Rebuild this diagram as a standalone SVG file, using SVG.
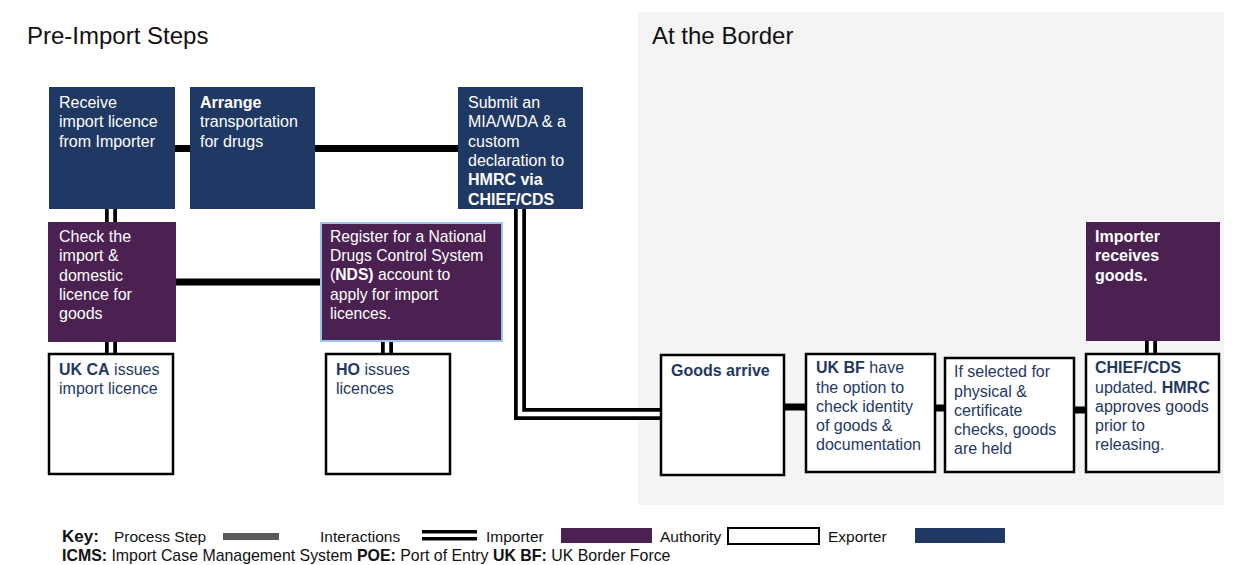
<svg xmlns="http://www.w3.org/2000/svg" width="1237" height="565" viewBox="0 0 1237 565">
<style>
text{font-family:"Liberation Sans",Arial,Helvetica,sans-serif;}
.title{font-size:24px;fill:#111;}
.t{font-size:16px;}
.w{fill:#ffffff;}
.n{fill:#1f3864;}
.b{font-weight:bold;}
.blue{fill:#1f3864;}
.purple{fill:#4a2150;}
.white{fill:#ffffff;stroke:#000;stroke-width:2.5;}
.single{stroke:#000;stroke-width:7;fill:none;}
.dblo{stroke:#000;stroke-width:12;fill:none;}
.dbli{stroke:#fff;stroke-width:4.5;fill:none;}
.leg{font-size:15.5px;fill:#111;}
.reg{font-size:15.7px;fill:#ffffff;}
</style>
<rect x="638" y="12" width="586" height="493" fill="#f4f4f4"/>
<text class="title" x="27" y="44">Pre-Import Steps</text>
<text class="title" x="652" y="44">At the Border</text>

<g id="connectors">
<line class="single" x1="175" y1="148.5" x2="190" y2="148.5"/>
<line class="single" x1="315" y1="148.5" x2="458" y2="148.5"/>
<line class="single" x1="176" y1="282" x2="321" y2="282"/>
<line class="single" x1="784" y1="407" x2="806" y2="407"/>
<line class="single" x1="935" y1="408" x2="945" y2="408"/>
<line class="single" x1="1074" y1="410" x2="1086" y2="410"/>
<path class="dblo" d="M111 209V222"/><path class="dbli" d="M111 208V223"/>
<path class="dblo" d="M111 342V354"/><path class="dbli" d="M111 341V355"/>
<path class="dblo" d="M387 342V354"/><path class="dbli" d="M387 341V355"/>
<path class="dblo" d="M1151 341V354"/><path class="dbli" d="M1151 340V355"/>
<path class="dblo" d="M520 209V414H661"/><path class="dbli" d="M520 208V414H662"/>
</g>

<g id="receive">
<rect class="blue" x="49" y="87" width="126" height="122"/>
<text class="t w" x="59" y="108">Receive</text>
<text class="t w" x="59" y="127.3">import licence</text>
<text class="t w" x="59" y="146.6">from Importer</text>
</g>
<g id="arrange">
<rect class="blue" x="190" y="87" width="125" height="122"/>
<text class="t w" x="200" y="108"><tspan class="b">Arrange</tspan></text>
<text class="t w" x="200" y="127.3">transportation</text>
<text class="t w" x="200" y="146.6">for drugs</text>
</g>
<g id="submit">
<rect class="blue" x="458" y="87" width="125" height="122"/>
<text class="t w" x="468" y="108">Submit an</text>
<text class="t w" x="468" y="127.3">MIA/WDA &amp; a</text>
<text class="t w" x="468" y="146.6">custom</text>
<text class="t w" x="468" y="165.9">declaration to</text>
<text class="t w b" x="468" y="185.2">HMRC via</text>
<text class="t w b" x="468" y="204.5">CHIEF/CDS</text>
</g>
<g id="check">
<rect class="purple" x="48" y="222" width="128" height="120"/>
<text class="t w" x="59" y="242">Check the</text>
<text class="t w" x="59" y="261.3">import &amp;</text>
<text class="t w" x="59" y="280.6">domestic</text>
<text class="t w" x="59" y="299.9">licence for</text>
<text class="t w" x="59" y="319.2">goods</text>
</g>
<g id="register">
<rect class="purple" x="321" y="223" width="181" height="118" stroke="#9dc3e6" stroke-width="2"/>
<text class="reg" x="330" y="242">Register for a National</text>
<text class="reg" x="330" y="261.2">Drugs Control System</text>
<text class="reg" x="330" y="280.4">(<tspan class="b">NDS)</tspan> account to</text>
<text class="reg" x="330" y="299.6">apply for import</text>
<text class="reg" x="330" y="318.8">licences.</text>
</g>
<g id="ukca">
<rect class="white" x="49" y="354" width="124" height="120"/>
<text class="t n" x="59" y="375"><tspan class="b">UK CA</tspan> issues</text>
<text class="t n" x="59" y="394.3">import licence</text>
</g>
<g id="ho">
<rect class="white" x="326" y="354" width="124" height="120"/>
<text class="t n" x="336" y="375"><tspan class="b">HO</tspan> issues</text>
<text class="t n" x="336" y="394.3">licences</text>
</g>
<g id="goods-arrive">
<rect class="white" x="661" y="355" width="123" height="120"/>
<text class="t n b" x="671" y="375.5">Goods arrive</text>
</g>
<g id="ukbf">
<rect class="white" x="806" y="354" width="129" height="118"/>
<text class="t n" x="816" y="373.3"><tspan class="b">UK BF</tspan> have</text>
<text class="t n" x="816" y="392.5">the option to</text>
<text class="t n" x="816" y="411.7">check identity</text>
<text class="t n" x="816" y="430.9">of goods &amp;</text>
<text class="t n" x="816" y="450.1">documentation</text>
</g>
<g id="if-selected">
<rect class="white" x="945" y="358" width="129" height="114"/>
<text class="t n" x="954" y="377.3">If selected for</text>
<text class="t n" x="954" y="396.5">physical &amp;</text>
<text class="t n" x="954" y="415.7">certificate</text>
<text class="t n" x="954" y="434.9">checks, goods</text>
<text class="t n" x="954" y="454.1">are held</text>
</g>
<g id="chief">
<rect class="white" x="1086" y="354" width="133" height="118"/>
<text class="t n b" x="1095" y="373.3">CHIEF/CDS</text>
<text class="t n" x="1095" y="392.5">updated. <tspan class="b">HMRC</tspan></text>
<text class="t n" x="1095" y="411.7">approves goods</text>
<text class="t n" x="1095" y="430.9">prior to</text>
<text class="t n" x="1095" y="450.1">releasing.</text>
</g>
<g id="importer-receives">
<rect class="purple" x="1086" y="222" width="134" height="119"/>
<text class="t w b" x="1095" y="242">Importer</text>
<text class="t w b" x="1095" y="261.3">receives</text>
<text class="t w b" x="1095" y="280.6">goods.</text>
</g>

<g id="legend">
<text x="62" y="542" font-size="17" font-weight="bold" fill="#111">Key:</text>
<text class="leg" x="114" y="542">Process Step</text>
<rect x="223" y="533" width="56" height="7" fill="#595959"/>
<text class="leg" x="320" y="542">Interactions</text>
<rect x="422" y="530" width="55" height="3.5" fill="#000"/>
<rect x="422" y="537" width="55" height="3.5" fill="#000"/>
<text class="leg" x="486" y="542">Importer</text>
<rect x="561" y="528" width="91" height="15" fill="#4a2150"/>
<text class="leg" x="660" y="542">Authority</text>
<rect x="728" y="528" width="91" height="16" fill="#fff" stroke="#000" stroke-width="2"/>
<text class="leg" x="828" y="542">Exporter</text>
<rect x="915" y="528" width="90" height="15" fill="#1f3864"/>
<text x="62" y="561" font-size="15.9" fill="#111"><tspan font-weight="bold">ICMS:</tspan> Import Case Management System <tspan font-weight="bold">POE:</tspan> Port of Entry <tspan font-weight="bold">UK BF:</tspan> UK Border Force</text>
</g>
</svg>
